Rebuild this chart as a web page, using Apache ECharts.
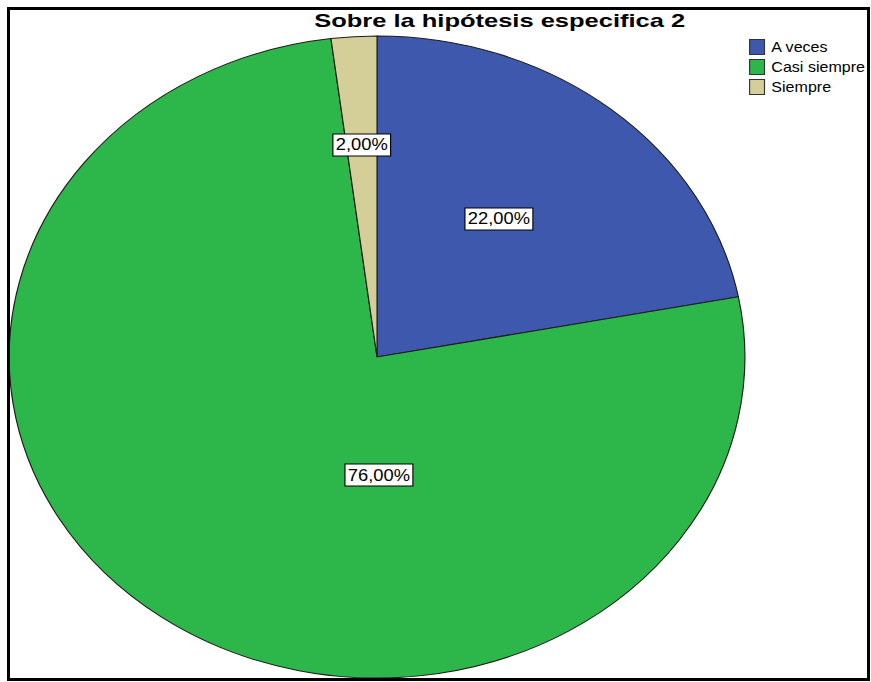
<!DOCTYPE html>
<html>
<head>
<meta charset="utf-8">
<script src="https://cdn.jsdelivr.net/npm/echarts@6/dist/echarts.min.js"></script>
<style>
  html, body { margin: 0; padding: 0; background: #fff; }
  #frame { position: absolute; left: 7px; top: 7px; width: 857px; height: 668px; border: 3px solid #000; overflow: hidden; background: #fff; }
  #chart { position: absolute; left: -10px; top: -10px; width: 760px; height: 682px; transform: scaleX(1.146); transform-origin: 0 0; }
</style>
</head>
<body>
<div id="frame"><div id="chart"></div></div>
<script>
// ---- data ----
const titleText = 'Sobre la hipótesis especifica 2';
const categories = ['A veces', 'Casi siempre', 'Siempre'];
const percentages = [22, 76, 2];
const colors = ['#3d58ac', '#2db74a', '#d4ce98'];

// ---- layout (not data) ----
const FONT = '"Liberation Sans", Arial, sans-serif';
const CX = 329, CY = 357, R = 321;
// label placement per slice: fraction of radius and angular shift (deg, screen) from mid-angle
const labelLayout = [
  { dist: 0.543, shift: -2 },
  { dist: 0.368, shift: -36.8 },
  { dist: 0.662, shift: 0 }
];

const total = percentages.reduce((a, b) => a + b, 0);
const cum = [];
let acc = 0;
percentages.forEach(v => { cum.push([acc, acc + v, v]); acc += v; });

function fmt(v) { return v.toFixed(2).replace('.', ',') + '%'; }

function makeRender(idx) {
  return function (params, api) {
    const s = api.value(0), e = api.value(1), v = api.value(2);
    const a0 = -Math.PI / 2 + 2 * Math.PI * s / total;
    const a1 = -Math.PI / 2 + 2 * Math.PI * e / total;
    const lay = labelLayout[idx];
    const am = (a0 + a1) / 2 + lay.shift * Math.PI / 180;
    const lx = CX + lay.dist * R * Math.cos(am);
    const ly = CY + lay.dist * R * Math.sin(am);
    return {
      type: 'group',
      children: [
        {
          type: 'sector',
          shape: { cx: CX, cy: CY, r: R, r0: 0, startAngle: a0, endAngle: a1, clockwise: true },
          style: { fill: api.visual('color'), stroke: '#1c1c1c', lineWidth: 1 }
        },
        {
          type: 'text',
          x: lx, y: ly, z2: 100,
          style: {
            text: fmt(v),
            font: '16px ' + FONT,
            fill: '#000',
            align: 'center',
            verticalAlign: 'middle',
            backgroundColor: '#fff',
            borderColor: '#000',
            borderWidth: 1,
            padding: [3, 2, 2, 2]
          }
        }
      ]
    };
  };
}

const chart = echarts.init(document.getElementById('chart'), null, { renderer: 'svg' });
chart.setOption({
  animation: false,
  backgroundColor: '#fff',
  graphic: [{
    type: 'text',
    x: 436, y: 21,
    scaleX: 1.17,
    originX: 0,
    originY: 0,
    style: {
      text: titleText,
      font: 'bold 19px ' + FONT,
      fill: '#000',
      align: 'center',
      verticalAlign: 'middle'
    }
  }],
  legend: {
    orient: 'vertical',
    left: 653.6,
    top: 39,
    padding: 0,
    itemWidth: 13,
    itemHeight: 15,
    itemGap: 4,
    icon: 'rect',
    selectedMode: false,
    itemStyle: { borderColor: '#333', borderWidth: 1 },
    textStyle: { fontSize: 14, fontFamily: FONT, color: '#000', lineHeight: 15, padding: [0, 0, 0, 1] },
    data: categories
  },
  series: categories.map((name, i) => ({
    type: 'custom',
    name: name,
    coordinateSystem: 'none',
    itemStyle: { color: colors[i] },
    data: [cum[i]],
    renderItem: makeRender(i)
  }))
});
</script>
</body>
</html>
